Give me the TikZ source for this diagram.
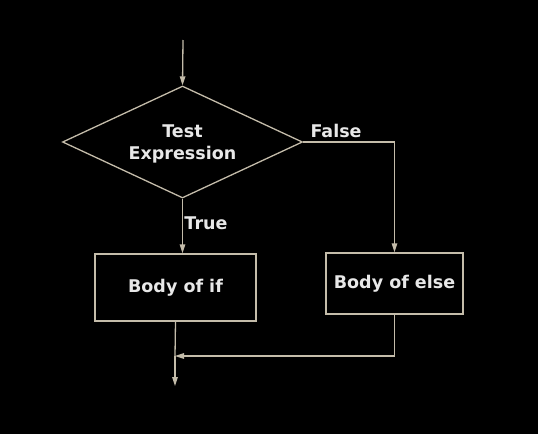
\documentclass[tikz,border=0pt]{standalone}
\usepackage{fontspec}
\setmainfont{DejaVu Sans}
\usetikzlibrary{shapes.geometric,arrows.meta}
\definecolor{linec}{RGB}{196,188,170}
\definecolor{txtc}{RGB}{232,232,232}
\begin{document}
\begin{tikzpicture}[x=1pt,y=-1pt,
  every node/.style={text=txtc,font=\bfseries\fontsize{17.5}{22}\selectfont},
  conn/.style={draw=linec,line width=1.3pt},
  arr/.style={conn,-{Triangle[length=9pt,width=5.5pt]}},
  dec/.style={diamond,shape aspect=2.14,draw=linec,line width=1.3pt,minimum width=240pt,minimum height=112pt,inner sep=0pt,align=center},
  procbox/.style={rectangle,draw=linec,line width=1.3pt,inner sep=0pt,align=center}]
\fill[black] (0,0) rectangle (538,434);
\useasboundingbox (0,0) rectangle (538,434);
\coordinate (start) at (183,40);
\node[dec] (dia) at (182.5,142) {\rule{0pt}{16pt}Test\\Expression};
\node[procbox,minimum width=161pt,minimum height=67pt] (ifbox) at (175.5,287.5) {Body of if};
\node[procbox,minimum width=137pt,minimum height=61pt] (elsebox) at (394.5,283.5) {Body of else};
\coordinate (merge) at (175,356);
\coordinate (endp) at (175,386);
\draw[arr] (start) -- (dia.north);
\draw[arr] (dia.south) -- (dia.south |- ifbox.north) node[pos=0.45,right=-2pt] (tlab) {True};
\draw[arr] (dia.east) -| (elsebox.north) node[pos=0.18,above=0pt] (flab) {False};
\draw[conn] (ifbox.south) -- (merge);
\draw[arr] (elsebox.south) |- (merge);
\draw[arr] (merge) -- (endp);
\end{tikzpicture}
\end{document}
